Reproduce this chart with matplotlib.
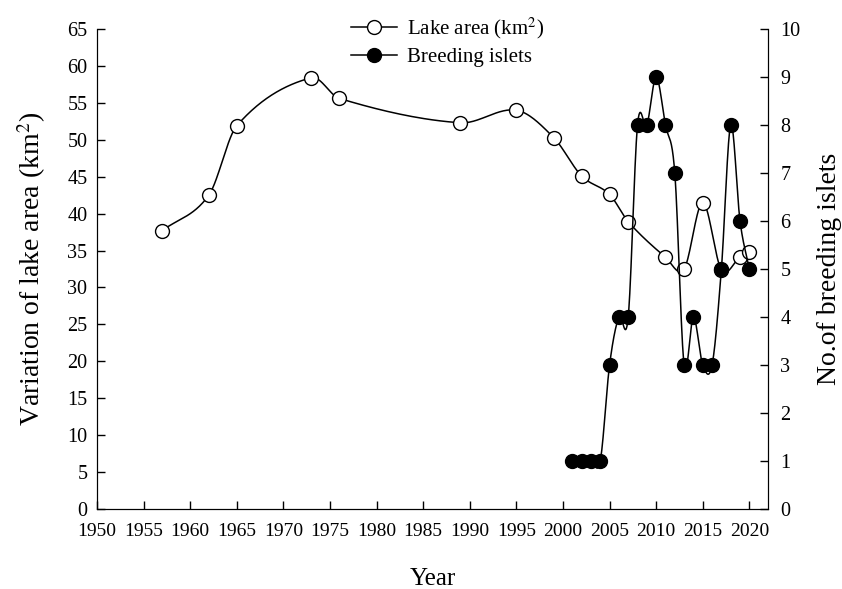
import matplotlib
matplotlib.use("Agg")
import matplotlib.pyplot as plt
import numpy as np

plt.rcParams['font.family'] = ['Liberation Serif', 'DejaVu Serif']
plt.rcParams['mathtext.fontset'] = 'stix'

# lake area (km2)
area_years = [1957, 1962, 1965, 1973, 1976, 1989, 1995, 1999, 2002, 2005,
              2007, 2011, 2013, 2015, 2017, 2019, 2020]
area_vals = [37.7, 42.5, 51.9, 58.4, 55.6, 52.3, 54.0, 50.3, 45.1, 42.6,
             38.9, 34.1, 32.5, 41.5, 32.4, 34.1, 34.8]

# breeding islets
islet_years = list(range(2001, 2021))
islet_vals = [1, 1, 1, 1, 3, 4, 4, 8, 8, 9, 8, 7, 3, 4, 3, 3, 5, 8, 6, 5]


def smooth(x, y, n=30):
    # Catmull-Rom style curve through the points, only for drawing the line
    x = np.asarray(x, float)
    y = np.asarray(y, float)
    m = np.empty_like(y)
    m[1:-1] = (y[2:] - y[:-2]) / (x[2:] - x[:-2])
    m[0] = (y[1] - y[0]) / (x[1] - x[0])
    m[-1] = (y[-1] - y[-2]) / (x[-1] - x[-2])
    xs, ys = [], []
    for i in range(len(x) - 1):
        h = x[i + 1] - x[i]
        t = np.linspace(0, 1, n, endpoint=False)
        h00 = 2 * t ** 3 - 3 * t ** 2 + 1
        h10 = t ** 3 - 2 * t ** 2 + t
        h01 = -2 * t ** 3 + 3 * t ** 2
        h11 = t ** 3 - t ** 2
        xs.extend(x[i] + t * h)
        ys.extend(h00 * y[i] + h10 * h * m[i] + h01 * y[i + 1] + h11 * h * m[i + 1])
    xs.append(x[-1])
    ys.append(y[-1])
    return xs, ys


fig = plt.figure(figsize=(8.42, 5.89), dpi=100)
ax = fig.add_axes([0.1152, 0.1358, 0.7969, 0.815])
ax2 = ax.twinx()

lx, ly = smooth(area_years, area_vals)
ax.plot(lx, ly, color='black', lw=1.1, zorder=2)
ax.plot(area_years, area_vals, 'o', mfc='white', mec='black', ms=10, mew=1.0, zorder=3)

bx, by = smooth(islet_years, islet_vals)
ax2.plot(bx, by, color='black', lw=1.1, zorder=2)
ax2.plot(islet_years, islet_vals, 'o', mfc='black', mec='black', ms=10, zorder=3)

ax.set_xlim(1950, 2022)
ax.set_ylim(0, 65)
ax2.set_ylim(0, 10)
ax.set_xticks(range(1950, 2021, 5))
ax.set_yticks(range(0, 66, 5))
ax2.set_yticks(range(0, 11))

for a in (ax, ax2):
    a.spines['top'].set_visible(False)
    a.tick_params(direction='in', length=6, width=1, labelsize=14.5, colors='black')
ax.tick_params(axis='x', pad=10, labelsize=14)
ax.tick_params(axis='y', pad=7)
ax2.tick_params(axis='y', pad=9)

ax.set_xlabel('Year', fontsize=18, labelpad=20)
ax.set_ylabel('Variation of lake area (km$^2$)', fontsize=20, labelpad=14)
ax2.set_ylabel('No.of breeding islets', fontsize=20, labelpad=12)

h1 = plt.Line2D([], [], color='black', lw=1.1, marker='o', mfc='white', mec='black', ms=10)
h2 = plt.Line2D([], [], color='black', lw=1.1, marker='o', mfc='black', mec='black', ms=10)
fig.legend([h1, h2], ['Lake area (km$^2$)', 'Breeding islets'],
           loc='upper left', bbox_to_anchor=(0.395, 1.005), frameon=False,
           fontsize=15, handlelength=2.2, handletextpad=0.45, labelspacing=0.3)

fig.savefig('out.png', dpi=100)
